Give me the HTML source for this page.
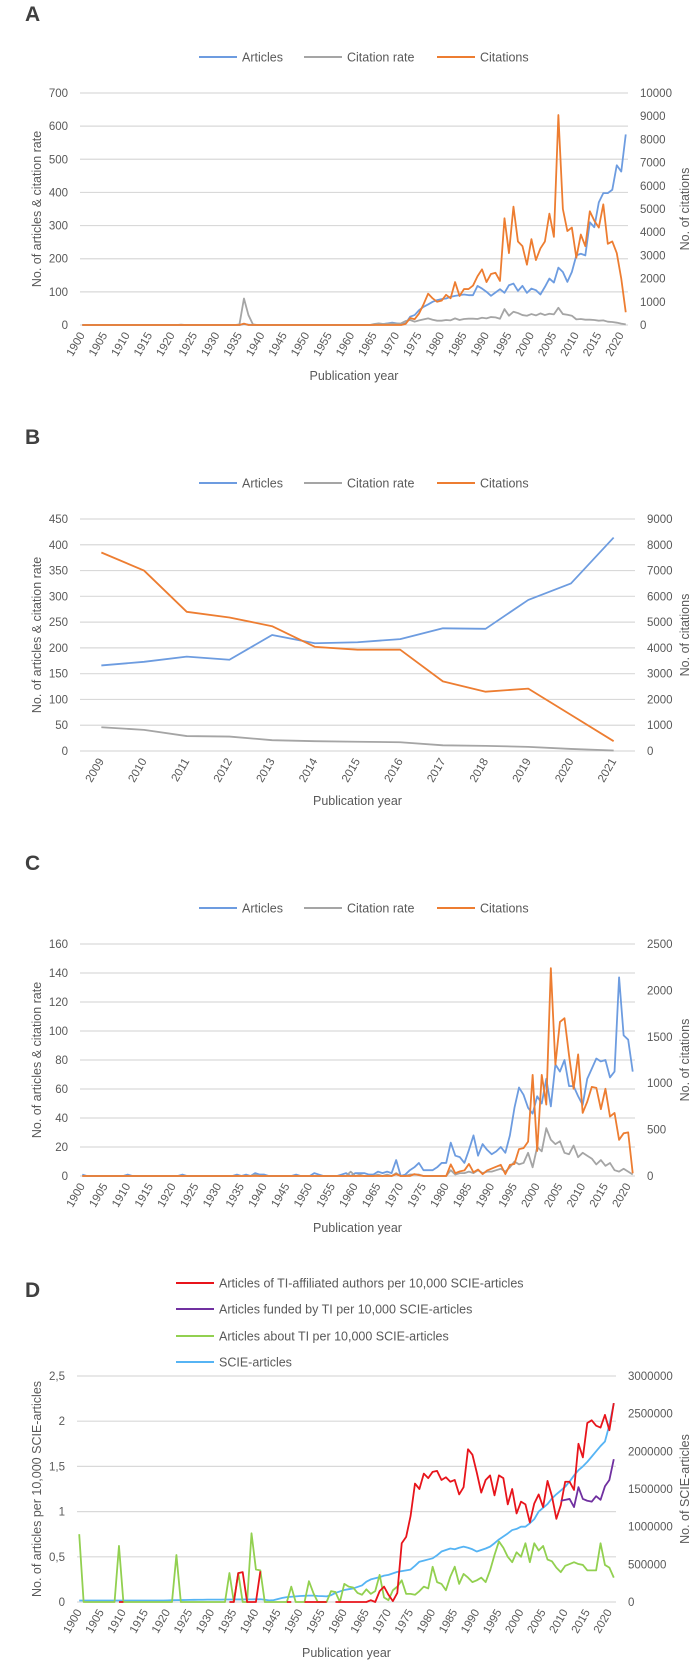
<!DOCTYPE html>
<html><head><meta charset="utf-8">
<style>
html,body{margin:0;padding:0;background:#fff;}
svg{display:block;font-family:"Liberation Sans",sans-serif;}
.tk{font-size:11.5px;fill:#595959;}
.ttl{font-size:12.5px;fill:#595959;}
.lg{font-size:12.5px;fill:#595959;}
.letter{font-size:21px;font-weight:bold;fill:#404040;}
</style></head>
<body>
<svg id="root" width="693" height="1662" viewBox="0 0 693 1662" xmlns="http://www.w3.org/2000/svg"></svg>
<script>
// ---------- Panel A data (1900-2021) ----------
const yearsA = [];
for (let y = 1900; y <= 2021; y++) yearsA.push(y);
const aArticles = [
0,0,0,0,0,0,0,0,0,0, 0,0,0,0,0,0,0,0,0,0, 0,0,0,0,0,0,0,0,0,0,
0,0,0,0,0,0,3,1,0,0, 0,0,0,0,0,0,0,0,0,0, 0,0,0,0,0,0,0,0,0,0,
0,0,0,0,0,1, 2,3,5,7,5,
3,5,25,30,45,55,62,70,75,78,
80,85,88,90,92,90,90,118,110,100,
88,98,108,97,120,125,103,118,97,110,
105,92,115,140,128,173,160,130,160,210,
215,210,310,295,370,398,398,408,482,463,575];
const aRate = [
0,0,0,0,0,0,0,0,0,0, 0,0,0,0,0,0,0,0,0,0, 0,0,1,0,0,0,0,0,0,0,
0,0,0,0,0,2,80,30,2,0, 0,0,0,0,0,0,0,0,0,0, 0,0,0,0,0,0,0,0,0,0,
0,0,0,0,0,3, 5,3,4,5,4,
5,12,15,10,14,17,20,16,13,13,
15,14,20,15,18,19,19,18,22,20,
24,23,19,48,28,40,36,30,28,33,
29,35,30,34,32,52,33,31,28,17,
18,16,16,15,13,14,10,9,7,4,2];
const aCitations = [
0,0,0,0,0,0,0,0,0,0, 0,0,0,0,0,0,0,0,0,0, 0,0,0,0,0,0,0,0,0,0,
0,0,0,0,0,0,60,0,0,0, 0,0,0,0,0,0,0,0,0,0, 0,0,0,0,0,0,0,0,0,0,
0,0,0,0,0,0, 0,0,0,0,0,
0,50,300,250,500,900,1350,1150,1000,1050,
1300,1150,1850,1250,1550,1550,1700,2100,2400,1850,
2200,2250,1900,4600,3100,5100,3600,3400,2600,3700,
2800,3300,3600,4800,3800,9050,5000,4050,4200,2900,
3900,3400,4900,4500,4200,5200,3500,3600,3100,2000,550];

// ---------- Panel B data ----------
const yearsB = [2009,2010,2011,2012,2013,2014,2015,2016,2017,2018,2019,2020,2021];
const bArticles = [166,173,183,177,225,209,211,217,238,237,293,325,414];
const bRate = [46,41,29,28,21,19,18,17,11,10,8,4,1];
const bCitations = [7700,7000,5400,5180,4840,4040,3930,3930,2700,2300,2420,1400,380];

// ---------- Panel C data (1900-2021) ----------
const cArticles = [
1,0,0,0,0,0,0,0,0,0, 1,0,0,0,0,0,0,0,0,0, 0,0,1,0,0,0,0,0,0,0,
0,0,0,0,1,0,1,0,2,1, 1,0,0,0,0,0,0,1,0,0, 0,2,1,0,0,0,0,1,2,0,
2,2,2,1,1,3,2,3,2,11,0,
1,4,6,9,4,4,4,6,9,9,
23,14,13,9,18,28,14,22,18,15,
17,20,16,28,47,61,56,47,43,55,
50,67,48,77,72,80,62,62,55,49,
67,74,81,79,80,68,72,137,97,94,72];
const cRate = [
0,0,0,0,0,0,0,0,0,0, 0,0,0,0,0,0,0,0,0,0, 0,0,0,0,0,0,0,0,0,0,
0,0,0,0,0,0,0,0,1,0, 0,0,0,0,0,0,0,0,0,0, 0,0,0,0,0,0,0,0,0,3,
0,1,0,0,0,1,0,1,0,2,0,
0,1,1,1,0,0,0,0,0,0,
4,1,2,2,3,2,4,2,3,3,
4,5,3,6,10,8,9,16,6,20,
17,33,25,22,24,16,15,21,13,16,
14,12,8,11,7,9,4,3,5,3,1];
const cCitations = [
0,0,0,0,0,0,0,0,0,0, 0,0,0,0,0,0,0,0,0,0, 0,0,0,0,0,0,0,0,0,0,
0,0,0,0,0,0,0,0,0,0, 0,0,0,0,0,0,0,0,0,0, 0,0,0,0,0,0,0,0,0,0,
0,0,0,0,0,0,0,0,0,20,0,
0,0,20,10,0,0,0,0,0,0,
125,30,50,60,130,40,70,20,60,80,
100,120,20,120,130,290,300,370,1090,270,
1090,770,2240,1200,1660,1700,1300,940,1310,680,
800,960,950,720,940,640,680,390,460,470,30];

// ---------- Panel D data (1900-2021) ----------
const dAffiliated = [
0,null,null,null,null,null,null,null,null,0, 0,null,null,null,null,null,null,null,null,null,
null,null,null,null,null,null,null,null,null,null, null,null,null,null,0,0,0.32,0.33,0,0,
0,0.34,null,null,null,null,null,0,0,null, null,0,0,0,0,0,0,null,0,0,
0,0,0,0,0,0,0.02,0,0.12,0.17,0.08,
0.01,0.1,0.65,0.72,0.95,1.31,1.25,1.42,1.37,1.44,
1.45,1.35,1.38,1.33,1.35,1.19,1.27,1.69,1.63,1.43,
1.21,1.35,1.4,1.18,1.4,1.37,1.08,1.25,0.98,1.11,
1.08,0.88,1.09,1.19,1.05,1.34,1.17,0.92,1.07,1.33,
1.33,1.24,1.75,1.6,1.98,2.01,1.95,1.93,2.07,1.9,2.2];
const dFunded = [
null,null,null,null,null,null,null,null,null,null, null,null,null,null,null,null,null,null,null,null,
null,null,null,null,null,null,null,null,null,null, null,null,null,null,null,null,null,null,null,null,
null,null,null,null,null,null,null,null,null,null, null,null,null,null,null,null,null,null,null,null,
null,null,null,null,null,null,null,null,null,null,null,
null,null,null,null,null,null,null,null,null,null,
null,null,null,null,null,null,null,null,null,null,
null,null,null,null,null,null,null,null,null,null,
null,null,null,null,null,null,null,null,1.12,1.13,
1.14,1.05,1.27,1.14,1.12,1.11,1.17,1.13,1.28,1.35,1.58];
const dAbout = [
0.75,0,0,0,0,0,0,0,0,0.62, 0,0,0,0,0,0,0,0,0,0,
0,0,0.52,0,0,0,0,0,0,0, 0,0,0,0,0.32,0,0.32,0,0,0.76,
0.36,0.35,0,0,0,0,0,0,0.17,0, 0,0,0.23,0.1,0,0,0,0.12,0.11,0,
0.2,0.17,0.16,0.1,0.08,0.14,0.09,0.12,0.3,0.05,0.02,
0.13,0.17,0.24,0.09,0.09,0.08,0.12,0.17,0.15,0.39,
0.22,0.2,0.13,0.28,0.39,0.2,0.31,0.27,0.22,0.24,
0.27,0.22,0.35,0.52,0.67,0.6,0.5,0.44,0.55,0.5,
0.65,0.44,0.65,0.57,0.62,0.47,0.45,0.38,0.33,0.4,
0.42,0.44,0.42,0.41,0.35,0.35,0.35,0.65,0.41,0.38,0.27];
const dScie = [
20000,20000,20000,20000,20000,20000,20000,20000,20000,20000, 20000,20000,20000,20000,20000,20000,20000,20000,20000,20000,
22000,24000,25000,26000,27000,28000,29000,30000,30000,31000, 32000,32000,32000,33000,33000,33000,34000,34000,35000,35000,
36000,36000,30000,22000,25000,40000,55000,65000,70000,75000, 80000,82000,85000,85000,80000,78000,75000,90000,120000,140000,
160000,170000,180000,200000,220000,270000,300000,315000,330000,350000,360000,
380000,400000,410000,420000,430000,480000,535000,550000,565000,580000,
620000,670000,690000,710000,700000,720000,735000,720000,700000,670000,
690000,710000,735000,780000,830000,870000,910000,955000,970000,1000000,
1000000,1045000,1100000,1200000,1250000,1300000,1375000,1430000,1480000,1530000,
1600000,1680000,1750000,1800000,1860000,1930000,2000000,2070000,2130000,2350000,2640000];

// ---------- drawing helpers ----------
const NS = "http://www.w3.org/2000/svg";
const root = document.getElementById("root");
function mk(tag, attrs, parent, text) {
  const e = document.createElementNS(NS, tag);
  for (const k in attrs) e.setAttribute(k, attrs[k]);
  if (text !== undefined) e.textContent = text;
  (parent || root).appendChild(e);
  return e;
}
function makeX(x0, x1, n) { const w = (x1 - x0) / n; return i => x0 + (i + 0.5) * w; }
function makeY(yTop, yBot, max) { return v => yBot - (v / max) * (yBot - yTop); }

function drawPanel(cfg) {
  const g = mk("g", {});
  
  
  const L = mk("text", {x: cfg.letterX, y: cfg.letterY, class: "letter"}, g, cfg.letter);
  
  
  const xs = makeX(cfg.x0, cfg.x1, cfg.cats.length);
  const yl = makeY(cfg.yTop, cfg.yBot, cfg.leftMax);
  const yr = makeY(cfg.yTop, cfg.yBot, cfg.rightMax);
  // grid + left ticks
  for (let i = 0; i < cfg.leftTicks.length; i++) {
    const v = cfg.leftTicks[i];
    const y = yl(v);
    const gl = mk("line", {x1: cfg.x0, x2: cfg.x1, y1: y, y2: y, stroke: "#d9d9d9", "stroke-width": 1.2}, g);
    
    
    const t = mk("text", {x: cfg.x0 - 12, y: y + 4, "text-anchor": "end", class: "tk"}, g, cfg.leftLabels[i]);
    
    
  }
  for (let i = 0; i < cfg.rightTicks.length; i++) {
    const y = yr(cfg.rightTicks[i]);
    const t = mk("text", {x: cfg.x1 + 12, y: y + 4, "text-anchor": "start", class: "tk"}, g, String(cfg.rightTicks[i]));
    
    
  }
  // x labels
  for (let i = 0; i < cfg.cats.length; i++) {
    if (cfg.cats[i] % cfg.xStep !== 0 && cfg.xStep > 1) continue;
    const x = xs(i) + 3, y = cfg.yBot + 10;
    const t = mk("text", {x: x, y: y, "text-anchor": "end", class: "tk", transform: "rotate(-60 " + x + " " + y + ")"}, g, String(cfg.cats[i]));
    
    
  }
  // series
  for (const s of cfg.series) {
    const ys = s.axis === "right" ? yr : yl;
    let d = "", pen = false;
    for (let i = 0; i < s.values.length; i++) {
      const v = s.values[i];
      if (v === null || v === undefined) { pen = false; continue; }
      d += (pen ? "L" : "M") + xs(i).toFixed(2) + " " + ys(v).toFixed(2);
      pen = true;
    }
    const p = mk("path", {d: d, fill: "none", stroke: s.color, "stroke-width": 1.8, "stroke-linejoin": "round"}, g);
    
    
  }
  // legend
  for (const lg of cfg.legend) {
    const l = mk("line", {x1: lg.lx, x2: lg.lx + 38, y1: lg.y, y2: lg.y, stroke: lg.color, "stroke-width": 2}, g);
    
    
    const t = mk("text", {x: lg.lx + 43, y: lg.y + 4.5, class: "lg"}, g, lg.label);
    
    
  }
  // axis titles
  const cx = (cfg.x0 + cfg.x1) / 2, cy = (cfg.yTop + cfg.yBot) / 2;
  const xt = mk("text", {x: cx, y: cfg.xTitleY, "text-anchor": "middle", class: "ttl"}, g, "Publication year");
  
  
  const ly = mk("text", {x: 0, y: 0, "text-anchor": "middle", class: "ttl", transform: "translate(" + cfg.leftTitleX + " " + cy + ") rotate(-90)"}, g, cfg.leftTitle);
  
  
  const ry = mk("text", {x: 0, y: 0, "text-anchor": "middle", class: "ttl", transform: "translate(" + cfg.rightTitleX + " " + cy + ") rotate(-90)"}, g, cfg.rightTitle);
  
  
}

const BLUE = "#6d9ce0", GRAY = "#a5a5a5", ORANGE = "#ed7d31";
function stdLegend(y) {
  return [
    {lx: 199, y: y, color: BLUE, label: "Articles"},
    {lx: 304, y: y, color: GRAY, label: "Citation rate"},
    {lx: 437, y: y, color: ORANGE, label: "Citations"}];
}

drawPanel({name: "panel-a", letter: "A", letterX: 25, letterY: 21,
  x0: 80, x1: 628, yTop: 93, yBot: 325, leftMax: 700, rightMax: 10000,
  leftTicks: [0,100,200,300,400,500,600,700], leftLabels: ["0","100","200","300","400","500","600","700"],
  rightTicks: [0,1000,2000,3000,4000,5000,6000,7000,8000,9000,10000],
  cats: yearsA, xStep: 5,
  series: [{id: "articles", values: aArticles, color: BLUE},
           {id: "citation-rate", values: aRate, color: GRAY},
           {id: "citations", values: aCitations, color: ORANGE, axis: "right"}],
  legend: stdLegend(57), xTitleY: 380, leftTitle: "No. of articles & citation rate", leftTitleX: 41,
  rightTitle: "No. of citations", rightTitleX: 689});

drawPanel({name: "panel-b", letter: "B", letterX: 25, letterY: 444,
  x0: 80, x1: 635, yTop: 519, yBot: 751, leftMax: 450, rightMax: 9000,
  leftTicks: [0,50,100,150,200,250,300,350,400,450], leftLabels: ["0","50","100","150","200","250","300","350","400","450"],
  rightTicks: [0,1000,2000,3000,4000,5000,6000,7000,8000,9000],
  cats: yearsB, xStep: 1,
  series: [{id: "articles", values: bArticles, color: BLUE},
           {id: "citation-rate", values: bRate, color: GRAY},
           {id: "citations", values: bCitations, color: ORANGE, axis: "right"}],
  legend: stdLegend(483), xTitleY: 805, leftTitle: "No. of articles & citation rate", leftTitleX: 41,
  rightTitle: "No. of citations", rightTitleX: 689});

drawPanel({name: "panel-c", letter: "C", letterX: 25, letterY: 870,
  x0: 80, x1: 635, yTop: 944, yBot: 1176, leftMax: 160, rightMax: 2500,
  leftTicks: [0,20,40,60,80,100,120,140,160], leftLabels: ["0","20","40","60","80","100","120","140","160"],
  rightTicks: [0,500,1000,1500,2000,2500],
  cats: yearsA, xStep: 5,
  series: [{id: "articles", values: cArticles, color: BLUE},
           {id: "citation-rate", values: cRate, color: GRAY},
           {id: "citations", values: cCitations, color: ORANGE, axis: "right"}],
  legend: stdLegend(908), xTitleY: 1232, leftTitle: "No. of articles & citation rate", leftTitleX: 41,
  rightTitle: "No. of citations", rightTitleX: 689});

drawPanel({name: "panel-d", letter: "D", letterX: 25, letterY: 1297,
  x0: 77, x1: 616, yTop: 1376, yBot: 1602, leftMax: 2.5, rightMax: 3000000,
  leftTicks: [0,0.5,1,1.5,2,2.5], leftLabels: ["0","0,5","1","1,5","2","2,5"],
  rightTicks: [0,500000,1000000,1500000,2000000,2500000,3000000],
  cats: yearsA, xStep: 5,
  series: [{id: "scie-articles", values: dScie, color: "#56b4f4", axis: "right"},
           {id: "about-ti", values: dAbout, color: "#92d050"},
           {id: "ti-affiliated", values: dAffiliated, color: "#e8141b"},
           {id: "funded-by-ti", values: dFunded, color: "#7030a0"}],
  legend: [
    {lx: 176, y: 1283, color: "#e8141b", label: "Articles of TI-affiliated authors per 10,000 SCIE-articles"},
    {lx: 176, y: 1309, color: "#7030a0", label: "Articles funded by TI per 10,000 SCIE-articles"},
    {lx: 176, y: 1336, color: "#92d050", label: "Articles about TI per 10,000 SCIE-articles"},
    {lx: 176, y: 1362, color: "#56b4f4", label: "SCIE-articles"}],
  xTitleY: 1657, leftTitle: "No. of articles per 10,000 SCIE-articles", leftTitleX: 41,
  rightTitle: "No. of SCIE-articles", rightTitleX: 689});
</script>
</body></html>
